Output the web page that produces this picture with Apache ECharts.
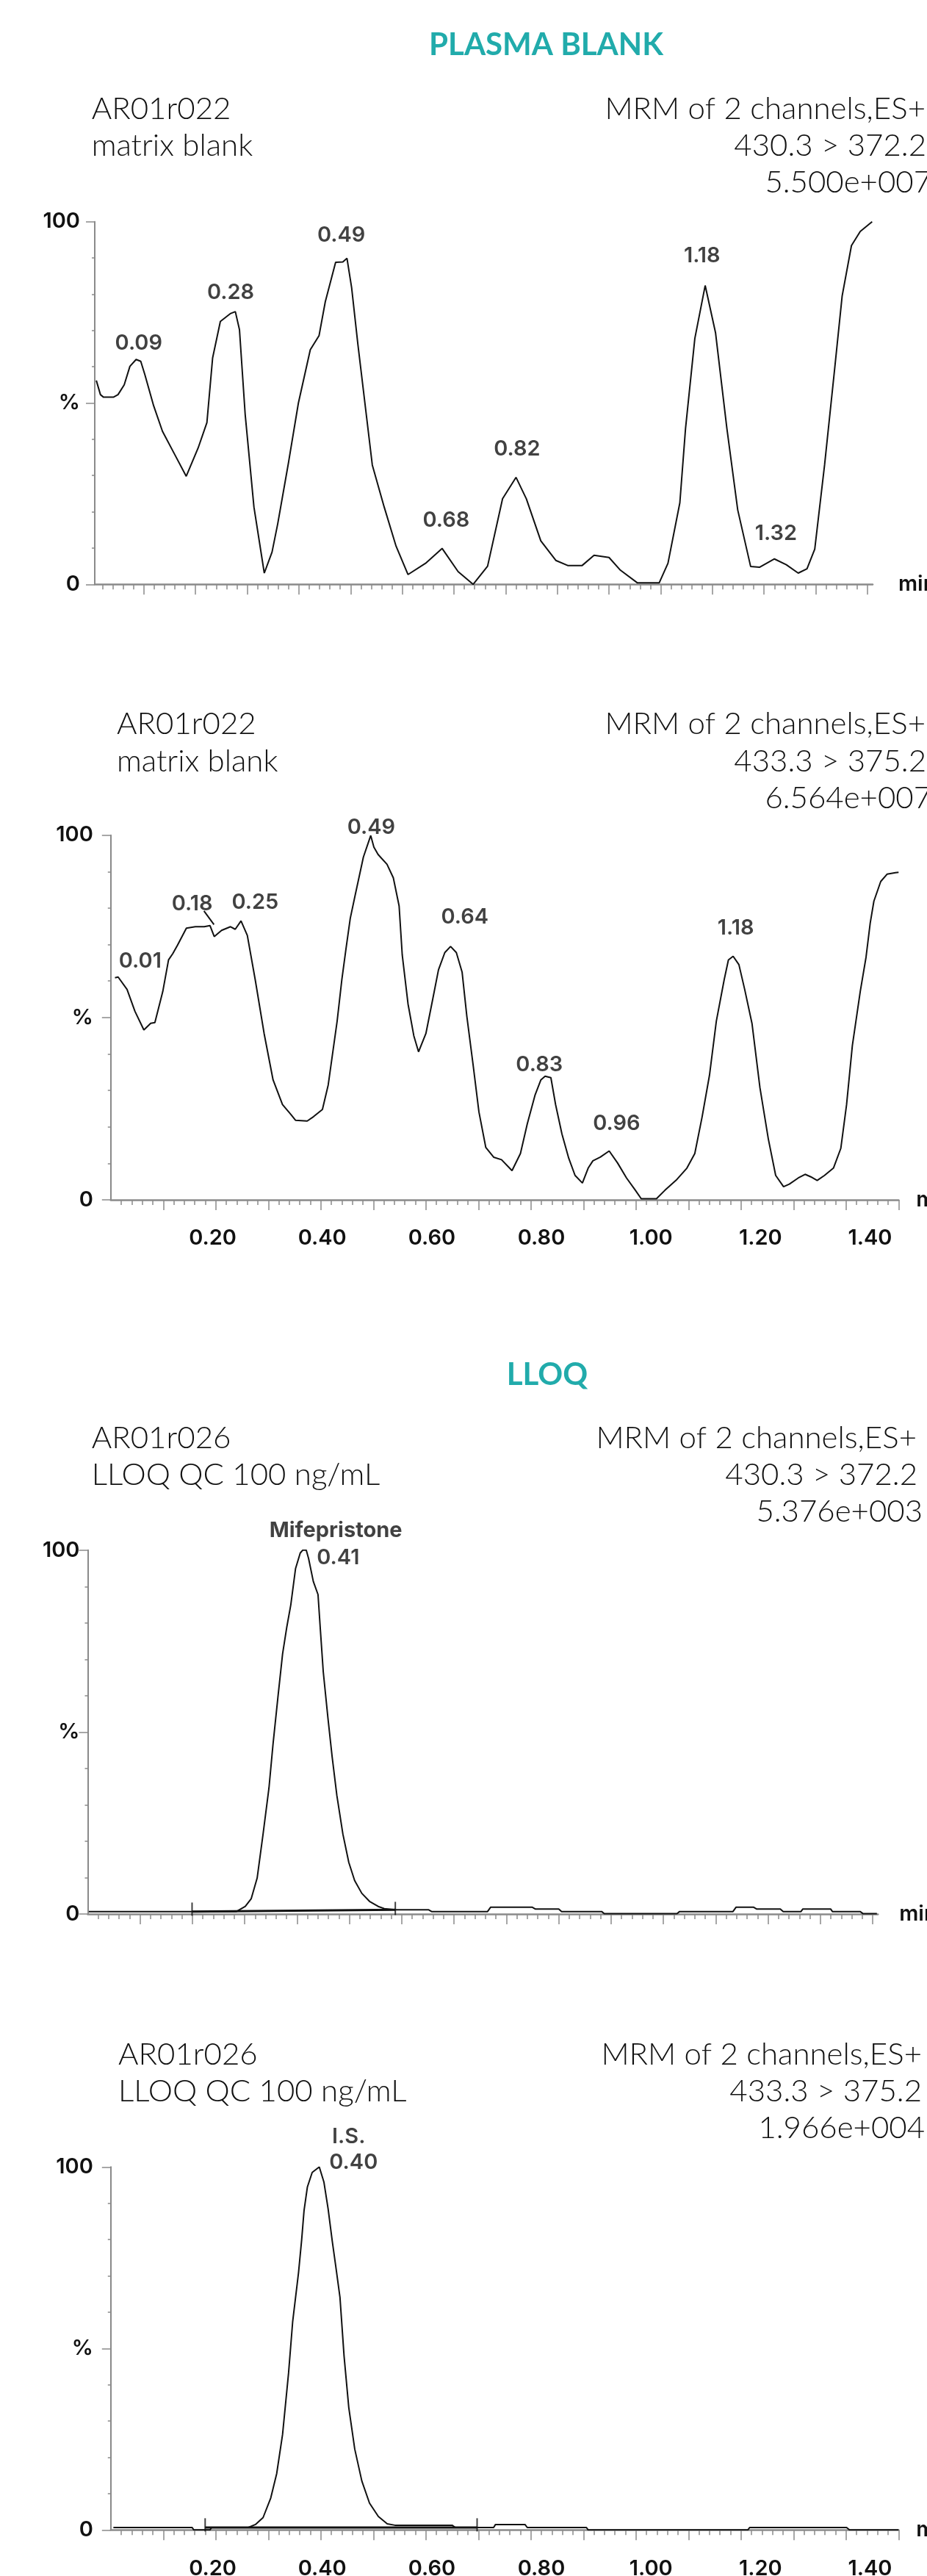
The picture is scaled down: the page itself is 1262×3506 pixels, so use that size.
<!DOCTYPE html>
<html><head><meta charset="utf-8">
<script src="https://cdn.jsdelivr.net/npm/echarts@6/dist/echarts.min.js"></script>
<style>html,body{margin:0;padding:0;background:#fff}#c{width:1262px;height:3506px}</style>
</head><body><div id="c"></div>
<script>
// ---------------- DATA ----------------
const sectionTitles = ['PLASMA BLANK', 'LLOQ'];
const headersLeft = [
  ['AR01r022', 'matrix blank'],
  ['AR01r022', 'matrix blank'],
  ['AR01r026', 'LLOQ QC 100 ng/mL'],
  ['AR01r026', 'LLOQ QC 100 ng/mL']
];
const headersRight = [
  ['MRM of 2 channels,ES+', '430.3 > 372.2', '5.500e+007'],
  ['MRM of 2 channels,ES+', '433.3 > 375.2', '6.564e+007'],
  ['MRM of 2 channels,ES+', '430.3 > 372.2', '5.376e+003'],
  ['MRM of 2 channels,ES+', '433.3 > 375.2', '1.966e+004']
];
const xTickLabels = ['0.20', '0.40', '0.60', '0.80', '1.00', '1.20', '1.40'];
const xTickLabelValues = [0.2, 0.4, 0.6, 0.8, 1.0, 1.2, 1.4];
const yTickLabels = { 0: '0', 50: '%', 100: '100' };
const xAxisName = 'min';

// Plasma blank, 430.3 > 372.2  [time (min), intensity %]
const blank1Trace = [
[0.008,56.2],[0.016,52.3],[0.022,51.6],[0.041,51.6],[0.05,52.3],[0.062,55.0],[0.073,60.1],[0.085,62.0],[0.094,61.5],[0.102,57.8],
[0.119,49.2],[0.136,42.2],[0.159,36.0],[0.182,29.8],[0.205,37.6],[0.222,44.6],[0.233,62.4],[0.248,72.5],[0.268,74.7],[0.277,75.2],
[0.285,70.2],[0.296,46.9],[0.313,21.3],[0.333,3.1],[0.348,8.9],[0.359,16.7],[0.38,33.7],[0.399,50.0],[0.422,64.7],[0.439,68.6],
[0.451,77.9],[0.471,88.8],[0.485,88.9],[0.493,89.9],[0.502,81.8],[0.514,66.3],[0.542,32.9],[0.565,21.3],[0.588,10.5],[0.611,2.7],
[0.645,5.8],[0.677,9.9],[0.708,3.5],[0.737,0.0],[0.765,5.0],[0.794,23.6],[0.82,29.5],[0.84,23.6],[0.868,12.0],[0.897,6.6],
[0.92,5.2],[0.948,5.2],[0.971,8.0],[1.0,7.4],[1.022,3.9],[1.055,0.4],[1.097,0.4],[1.114,5.8],[1.137,22.5],[1.148,43.0],
[1.166,67.8],[1.186,82.4],[1.206,69.4],[1.228,43.0],[1.249,20.5],[1.274,4.9],[1.291,4.7],[1.32,7.0],[1.343,5.4],[1.366,3.1],
[1.383,4.3],[1.398,9.7],[1.417,32.9],[1.437,60.1],[1.451,79.5],[1.469,93.4],[1.486,97.3],[1.509,100]
];
const blank1Peaks = [['0.09',0.090,66.5],['0.28',0.268,80.4],['0.49',0.482,96.3],['0.68',0.685,17.6],['0.82',0.822,37.2],['1.18',1.180,90.5],['1.32',1.323,13.9]];

// Plasma blank, 433.3 > 375.2
const blank2Trace = [
[0.008,60.9],[0.014,61.1],[0.031,57.7],[0.046,51.7],[0.063,46.6],[0.076,48.4],[0.084,48.6],[0.099,57.1],[0.11,65.8],[0.118,67.5],
[0.127,69.8],[0.144,74.5],[0.161,74.9],[0.178,74.9],[0.189,75.2],[0.197,72.2],[0.211,73.9],[0.228,74.9],[0.237,74.2],[0.248,76.5],
[0.26,72.5],[0.275,60.4],[0.292,45.6],[0.309,32.9],[0.327,26.1],[0.343,23.4],[0.352,21.8],[0.374,21.6],[0.386,22.8],[0.403,24.8],
[0.414,31.5],[0.431,49.0],[0.44,60.4],[0.448,69.0],[0.456,77.2],[0.465,83.3],[0.481,94.0],[0.495,99.9],[0.501,96.7],[0.509,94.7],
[0.526,92.0],[0.538,88.3],[0.549,80.6],[0.555,67.1],[0.566,53.7],[0.577,45.0],[0.586,40.6],[0.6,45.6],[0.613,55.0],[0.624,63.1],
[0.636,67.8],[0.647,69.5],[0.658,67.8],[0.669,62.4],[0.678,50.3],[0.69,36.9],[0.701,24.1],[0.714,14.4],[0.729,11.7],[0.744,11.0],
[0.764,8.0],[0.78,12.7],[0.793,20.8],[0.808,28.8],[0.819,32.9],[0.827,33.9],[0.838,33.5],[0.847,26.1],[0.859,18.1],[0.872,11.4],
[0.884,6.7],[0.898,4.6],[0.909,8.7],[0.918,10.7],[0.932,11.7],[0.949,13.4],[0.965,10.1],[0.982,6.0],[0.999,2.6],[1.01,0.3],
[1.039,0.3],[1.055,2.6],[1.078,5.6],[1.097,8.7],[1.112,12.7],[1.126,22.8],[1.14,34.2],[1.153,49.0],[1.168,60.4],[1.176,65.8],
[1.185,66.8],[1.196,64.5],[1.207,57.7],[1.221,48.3],[1.236,30.8],[1.252,16.7],[1.266,6.7],[1.281,3.6],[1.292,4.3],[1.309,6.0],
[1.322,7.0],[1.333,6.3],[1.345,5.3],[1.359,6.7],[1.376,8.7],[1.39,14.1],[1.401,26.1],[1.412,42.3],[1.427,57.1],[1.438,66.5],
[1.446,75.9],[1.453,81.9],[1.466,87.3],[1.478,89.3],[1.494,89.7],[1.5,89.8]
];
const blank2Peaks = [['0.01',0.056,65.4],['0.18',0.155,81.2],['0.25',0.275,81.6],['0.49',0.496,102.0],['0.64',0.674,77.5],['0.83',0.816,37.0],['0.96',0.963,20.8],['1.18',1.190,74.5]];
const blank2Leader = [[0.1775,79.2],[0.1965,75.5]];

// LLOQ, 430.3 > 372.2 (Mifepristone)
const lloqTrace = [
[0.002,0.7],[0.284,0.7],[0.301,2.1],[0.3124,4.25],[0.3237,9.9],[0.335,22.0],[0.3463,34.7],[0.354,46.7],[0.3633,59.5],[0.3723,71.5],
[0.380,78.6],[0.388,85.0],[0.397,94.9],[0.406,99.2],[0.4107,100],[0.4175,100],[0.422,97.7],[0.431,91.4],[0.44,87.8],[0.4446,77.9],
[0.450,66.6],[0.459,53.8],[0.467,43.2],[0.476,32.6],[0.4875,22.0],[0.4988,14.2],[0.510,9.2],[0.5237,5.7],[0.5384,3.5],[0.555,2.1],
[0.5666,1.5],[0.587,1.2],[0.651,1.2],[0.657,0.7],[0.764,0.7],[0.77,1.9],[0.849,1.9],[0.855,1.4],[0.9,1.4],[0.9055,0.7],
[0.982,0.7],[0.987,0.1],[1.126,0.1],[1.131,0.7],[1.233,0.7],[1.239,1.9],[1.272,1.9],[1.278,1.4],[1.3235,1.4],[1.329,0.7],
[1.363,0.7],[1.3665,1.4],[1.4196,1.4],[1.423,0.7],[1.476,0.7],[1.4817,0.1],[1.508,0.1]
];
const lloqPeaks = [['Mifepristone',0.474,105.4],['0.41',0.4785,97.9]];
const lloqBaseline = [[0.1993,0.7],[0.5877,1.2]];
const lloqMarkers = [[0.1993,1.35],[0.5877,1.55]];

// LLOQ, 433.3 > 375.2 (I.S.)
const isTrace = [
[0.005,0.67],[0.155,0.67],[0.158,0],[0.189,0],[0.192,0.67],[0.262,0.67],[0.2754,1.5],[0.29,3.4],[0.3046,8.8],[0.3159,15.5],
[0.3271,26.3],[0.3385,43.2],[0.3463,57.3],[0.3575,70.9],[0.3635,80.0],[0.368,88.0],[0.3744,94.5],[0.3835,98.5],[0.397,100],[0.4059,95.8],
[0.4138,88.5],[0.4217,79.6],[0.429,72.0],[0.4364,64.1],[0.4442,47.9],[0.4532,33.7],[0.4645,22.3],[0.478,13.5],[0.4926,7.4],[0.5095,3.7],
[0.5264,1.7],[0.541,1.3],[0.650,1.3],[0.656,0.67],[0.729,0.67],[0.7325,1.5],[0.7887,1.5],[0.793,0.67],[0.9057,0.67],[0.909,0],
[1.213,0],[1.2164,0.67],[1.401,0.67],[1.4066,0],[1.5,0]
];
const isPeaks = [['I.S.',0.4531,108.3],['0.40',0.4622,101.3]];
const isBaseline = [[0.1797,0.67],[0.6975,0.67]];
const isMarkers = [[0.1797,1.4],[0.6975,1.4]];

// ---------------- LAYOUT / STYLE ----------------
const TEAL = '#21abab';
const INK = '#111111';
const AXIS = '#8a8a8a';
const LABEL_FONT = 'Inter';
const HEAD_FONT = 'Lato';
const HEAD_SIZE = 42;

const panels = [
  { trace: blank1Trace, peaks: blank1Peaks, grid: {left:129, top:301.7, width:1059, height:493.6}, xmin:0.005, xmax:1.51, showLabels:false, yMargin:20, nameGap:35,
    headL: {x:124.7, y:[147.2,197.2]}, headR: {x:[1260,1261,1268], y:[147.2,197.2,247.2]} },
  { trace: blank2Trace, peaks: blank2Peaks, leader: blank2Leader, grid: {left:150.8, top:1136.7, width:1072.5, height:496.3}, xmin:0, xmax:1.5, showLabels:true, yMargin:24, nameGap:24,
    headL: {x:159, y:[984.2,1035.9]}, headR: {x:[1260,1261,1268], y:[984.2,1035.9,1085.9]} },
  { trace: lloqTrace, peaks: lloqPeaks, baseline: lloqBaseline, markers: lloqMarkers, grid: {left:119.5, top:2109.8, width:1075.7, height:495.3}, xmin:0, xmax:1.51, showLabels:false, yMargin:11, nameGap:29,
    headL: {x:124.7, y:[1956.9,2006.9]}, headR: {x:[1248,1249,1256], y:[1956.9,2006.9,2056.9]} },
  { trace: isTrace, peaks: isPeaks, baseline: isBaseline, markers: isMarkers, grid: {left:150.8, top:2949.3, width:1072.5, height:494}, xmin:0, xmax:1.5, showLabels:true, yMargin:24, nameGap:24,
    headL: {x:161, y:[2795.9,2845.9]}, headR: {x:[1255,1255,1259], y:[2795.9,2845.9,2895.9]} }
];
const sectionPos = [{x:743.5, y:61}, {x:745, y:1871}];
const labelAxisRange = [0.014, 1.452];

function steps(from, to, step) {
  const out = [];
  for (let k = Math.ceil(from / step - 1e-9); k * step <= to + 1e-9; k++) out.push(+(k * step).toFixed(3));
  return out.filter(v => v > 0);
}

const grids = [], xAxes = [], yAxes = [], series = [], graphics = [];

panels.forEach((p, i) => {
  grids.push(Object.assign({containLabel:false, outerBoundsMode:'none'}, p.grid));
  xAxes.push({
    type:'value', gridIndex:i, position:'bottom', min:p.xmin, max:p.xmax,
    axisLine:{show:false}, splitLine:{show:false}, axisLabel:{show:false},
    axisTick:{show:true, customValues: steps(p.xmin, p.xmax, 0.02), length:7, lineStyle:{color:AXIS, width:1.5}}
  });
  const majorIdx = xAxes.length;
  xAxes.push({
    type:'value', gridIndex:i, position:'bottom', min:p.xmin, max:p.xmax,
    axisLine:{show:true, onZero:false, lineStyle:{color:AXIS, width:2.5}},
    splitLine:{show:false}, axisLabel:{show:false},
    axisTick:{show:true, customValues: steps(p.xmin, p.xmax, 0.1), length:14, lineStyle:{color:AXIS, width:1.5}},
    name: xAxisName, nameLocation:'end', nameGap:p.nameGap,
    nameTextStyle:{fontFamily:LABEL_FONT, fontSize:29, fontWeight:600, color:INK, verticalAlign:'middle', align:'left'}
  });
  if (p.showLabels) {
    xAxes.push({
      type:'value', gridIndex:i, position:'bottom', min:labelAxisRange[0], max:labelAxisRange[1],
      axisLine:{show:false}, axisTick:{show:false}, splitLine:{show:false},
      axisLabel:{show:true, customValues:xTickLabelValues, margin:38,
        formatter:(v) => xTickLabels[xTickLabelValues.findIndex(t => Math.abs(t - v) < 1e-6)] || '',
        fontFamily:LABEL_FONT, fontSize:29, fontWeight:600, color:INK}
    });
  }
  yAxes.push({
    type:'value', gridIndex:i, min:0, max:100, interval:50,
    axisLine:{show:true, lineStyle:{color:AXIS, width:2}},
    axisTick:{show:true, length:12, lineStyle:{color:AXIS, width:1.5}},
    minorTick:{show:true, splitNumber:5, length:4, lineStyle:{color:AXIS, width:1.5}},
    splitLine:{show:false}, minorSplitLine:{show:false},
    axisLabel:{show:true, margin:p.yMargin, formatter:(v) => yTickLabels[v] !== undefined ? yTickLabels[v] : '',
      fontFamily:LABEL_FONT, fontSize:29, fontWeight:600, color:INK}
  });
  if (p.baseline) {
    series.push({type:'line', xAxisIndex:majorIdx, yAxisIndex:i, data:p.baseline, symbol:'none',
      lineStyle:{color:INK, width:3}, silent:true, z:2, animation:false});
  }
  series.push({type:'line', xAxisIndex:majorIdx, yAxisIndex:i, data:p.trace, symbol:'none', showSymbol:false,
    lineStyle:{color:INK, width:2}, silent:true, z:3, animation:false});
  if (p.leader) {
    series.push({type:'line', xAxisIndex:majorIdx, yAxisIndex:i, data:p.leader, symbol:'none',
      lineStyle:{color:INK, width:2}, silent:true, z:3, animation:false});
  }
  if (p.markers) {
    series.push({type:'scatter', xAxisIndex:majorIdx, yAxisIndex:i, data:p.markers, symbol:'rect', symbolSize:[2,18],
      itemStyle:{color:INK}, silent:true, z:4, animation:false, clip:false});
  }
  series.push({
    type:'scatter', xAxisIndex:majorIdx, yAxisIndex:i, clip:false, silent:true, animation:false, z:5,
    symbolSize:1, itemStyle:{color:'rgba(0,0,0,0)'},
    data: p.peaks.map(pk => ({
      value:[pk[1], pk[2]], name:pk[0],
      label:{fontWeight: /[A-Za-z]{3,}/.test(pk[0]) ? 700 : 600}
    })),
    label:{show:true, position:'inside', formatter:(d) => d.name, color:INK, fontFamily:LABEL_FONT, fontSize:29, fontWeight:600, textBorderWidth:0}
  });

  headersLeft[i].forEach((t, k) => graphics.push({type:'text', x:p.headL.x, y:p.headL.y[k] + 1, z:10,
    style:{text:t, fill:INK, font:`300 ${HEAD_SIZE}px ${HEAD_FONT}`, textAlign:'left', textVerticalAlign:'middle', align:'left', verticalAlign:'middle'}}));
  headersRight[i].forEach((t, k) => graphics.push({type:'text', x:p.headR.x[k], y:p.headR.y[k] + 1, z:10,
    style:{text:t, fill:INK, font:`300 ${HEAD_SIZE}px ${HEAD_FONT}`, textAlign:'right', textVerticalAlign:'middle', align:'right', verticalAlign:'middle'}}));
});

sectionTitles.forEach((t, k) => graphics.push({type:'text', x:sectionPos[k].x, y:sectionPos[k].y, z:10,
  style:{text:t, fill:TEAL, font:`bold 42px ${HEAD_FONT}`, textAlign:'center', textVerticalAlign:'middle', align:'center', verticalAlign:'middle'}}));

const chart = echarts.init(document.getElementById('c'), null, {renderer:'canvas', width:1262, height:3506});
chart.setOption({
  backgroundColor:'#ffffff',
  animation:false,
  grid:grids, xAxis:xAxes, yAxis:yAxes, series:series, graphic:graphics
});
</script>
</body></html>
